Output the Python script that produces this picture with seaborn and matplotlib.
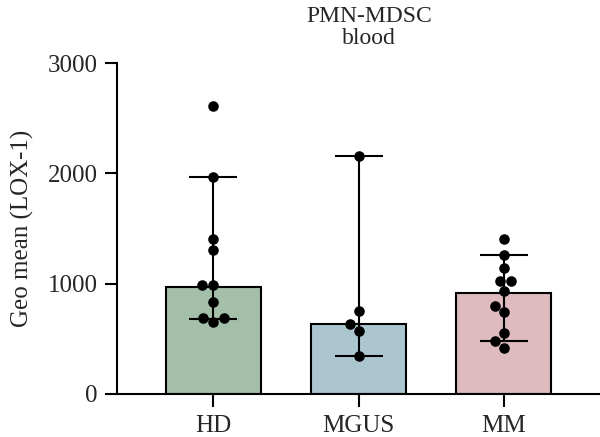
import numpy as np
import pandas as pd
import matplotlib
matplotlib.use("Agg")
import matplotlib.pyplot as plt
import seaborn as sns

groups = ["HD", "MGUS", "MM"]
hd_vals = [2611, 1967, 1405, 1305, 988, 988, 834, 689, 689, 653]
mgus_vals = [2158, 755, 637, 571, 344]
mm_vals = [1405, 1260, 1145, 1026, 1020, 930, 801, 743, 556, 483, 420]
bar_heights = [973, 631, 918]
err_low = [683, 344, 483]
err_high = [1967, 2158, 1260]
colors = ["#9ec4a6", "#a6c9d6", "#e3b5b9"]
yticks = [0, 1000, 2000, 3000]

sns.set_style("ticks")
plt.rcParams["font.family"] = ["Liberation Serif", "DejaVu Serif"]

pts = pd.DataFrame({
    "group": ["HD"] * len(hd_vals) + ["MGUS"] * len(mgus_vals) + ["MM"] * len(mm_vals),
    "value": hd_vals + mgus_vals + mm_vals,
})
summ = pd.DataFrame({"group": groups, "height": bar_heights})

fig = plt.figure(figsize=(6, 4.37), dpi=100)
ax = fig.add_axes([117 / 600, 43 / 437, 483 / 600, 331 / 437])

sns.barplot(data=summ, x="group", y="height", hue="group", palette=colors,
            order=groups, width=0.655, edgecolor="black", linewidth=1.5,
            legend=False, ax=ax, zorder=1)

xpos = np.arange(len(groups))
h = np.array(bar_heights)
ax.errorbar(xpos, h, yerr=[h - np.array(err_low), np.array(err_high) - h],
            fmt="none", ecolor="black", elinewidth=1.5, capsize=17,
            capthick=1.5, zorder=3)

sns.swarmplot(data=pts, x="group", y="value", order=groups, color="black",
              size=7.6, ax=ax, zorder=4)

ax.set_xlim(-0.665, 2.665)
ax.set_ylim(0, 3000)
ax.set_yticks(yticks)
ax.set_yticklabels([str(t) for t in yticks])
ax.set_xlabel("")
ax.set_ylabel("Geo mean (LOX-1)", fontsize=18, labelpad=10)
ax.set_title("PMN-MDSC\nblood", fontsize=17, pad=14, linespacing=1.05, x=0.522)
ax.tick_params(axis="both", labelsize=18, width=1.5, length=9, color="black")
ax.tick_params(axis="y", pad=5)
ax.tick_params(axis="x", pad=6)
for s in ["top", "right"]:
    ax.spines[s].set_visible(False)
for s in ["left", "bottom"]:
    ax.spines[s].set_linewidth(1.5)
    ax.spines[s].set_color("black")

fig.savefig("out.png", dpi=100)
